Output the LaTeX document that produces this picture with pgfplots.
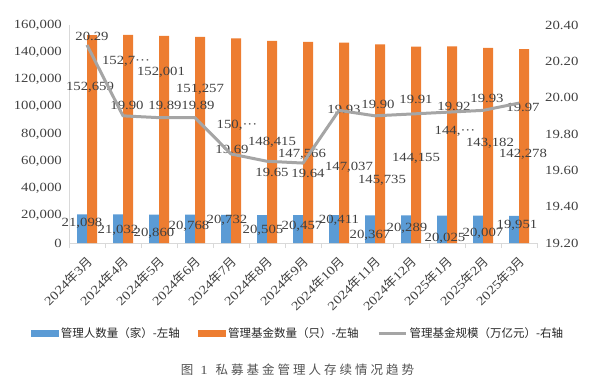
\documentclass[border=0pt]{standalone}
\usepackage{fontspec}
\setmainfont{Liberation Serif}[FakeStretch=1.18]
\newfontfamily\cjk{Noto Sans CJK SC}
\newfontfamily\cjkt{Noto Sans CJK SC}[LetterSpace=24]
\usepackage{pgfplots}
\pgfplotsset{compat=1.18}
\definecolor{cblue}{HTML}{5B9BD5}
\definecolor{corange}{HTML}{ED7D31}
\definecolor{cgray}{HTML}{A5A5A5}
\definecolor{ctext}{HTML}{404040}
\definecolor{caxis}{HTML}{D9D9D9}
\newcommand{\ym}[2]{#1{\cjk 年}#2{\cjk 月}}
\newcommand{\nf}{\fontsize{12.5}{14}\selectfont}
\pgfplotsset{lbl/.style={draw=none, mark=none, nodes near coords, point meta=explicit symbolic,
  every node near coord/.append style={anchor=center, font=\nf, text=ctext, inner sep=0pt}}}
\begin{document}
\begin{tikzpicture}
\useasboundingbox (0,0) rectangle (593pt,386pt);
\begin{axis}[
  at={(69pt,143pt)}, anchor=south west, scale only axis, width=468pt, height=218pt,
  xmin=-0.5, xmax=12.5, ymin=0, ymax=160000, clip=false,
  axis x line*=bottom, axis y line*=left,
  axis line style={caxis, line width=0.8pt, -},
  xtick={0,...,12},
  xticklabels={\ym{2024}{3},\ym{2024}{4},\ym{2024}{5},\ym{2024}{6},\ym{2024}{7},\ym{2024}{8},\ym{2024}{9},\ym{2024}{10},\ym{2024}{11},\ym{2024}{12},\ym{2025}{1},\ym{2025}{2},\ym{2025}{3}},
  minor xtick={-0.5,0.5,...,12.5},
  major tick length=0pt, minor tick length=5pt, tick align=outside,
  minor tick style={caxis, line width=0.8pt},
  ytick={0,20000,40000,60000,80000,100000,120000,140000,160000},
  scaled y ticks=false,
  /pgf/number format/fixed, /pgf/number format/precision=0,
  /pgf/number format/1000 sep={,},
  /pgf/number format/assume math mode=true,
  yticklabel style={inner sep=0pt, xshift=-7pt, font=\nf, text=ctext},
  xticklabel style={xshift=3pt, yshift=-16pt, rotate=45, anchor=east, inner sep=0pt, font=\nf, text=ctext},
]
\addplot[ybar, bar width=10pt, bar shift=-5pt, fill=cblue, draw=none] coordinates {
(0,21098) (1,21032) (2,20860) (3,20768) (4,20732) (5,20505) (6,20457) (7,20411) (8,20367) (9,20289) (10,20025) (11,20007) (12,19951)};
\addplot[ybar, bar width=10pt, bar shift=5pt, fill=corange, draw=none] coordinates {
(0,152659) (1,152750) (2,152001) (3,151257) (4,150230) (5,148415) (6,147566) (7,147037) (8,145735) (9,144155) (10,144300) (11,143182) (12,142278)};
% manager labels
\addplot[lbl] coordinates {
(-0.139,14679)[21,098] (0.861,9541)[21,032] (1.861,7339)[20,860] (2.833,12477)[20,768]
(3.889,16881)[20,732] (4.889,9541)[20,505] (5.972,12477)[20,457] (7.0,16881)[20,411]
(7.861,5872)[20,367] (8.889,11009)[20,289] (9.944,3670)[20,025] (11.0,7339)[20,007] (11.944,13211)[19,951]};
% fund labels
\addplot[lbl] coordinates {
(0.083,114495)[152,659] (1.083,133577)[152,7···] (2.056,125504)[152,001] (3.139,113027)[151,257]
(4.167,86605)[150,···] (5.139,74128)[148,415] (5.972,65321)[147,566] (7.278,55779)[147,037]
(8.194,46238)[145,735] (9.139,62385)[144,155] (10.222,82201)[144,···] (11.194,73394)[143,182] (12.111,65321)[142,278]};
% scale labels
\addplot[lbl] coordinates {
(0.139,151926)[20.29] (1.111,101284)[19.90] (2.167,101284)[19.89] (3.083,101284)[19.89]
(4.028,68990)[19.69] (5.139,52110)[19.65] (6.139,51376)[19.64] (7.139,98348)[19.93]
(8.083,102018)[19.90] (9.139,105687)[19.91] (10.194,100550)[19.92] (11.111,106421)[19.93] (12.111,99816)[19.97]};
\end{axis}
\begin{axis}[
  at={(69pt,143pt)}, anchor=south west, scale only axis, width=468pt, height=218pt,
  xmin=-0.5, xmax=12.5, ymin=19.2, ymax=20.4,
  axis x line=none, axis y line*=right,
  y axis line style={draw=none},
  major tick length=0pt,
  ytick={19.2,19.4,19.6,19.8,20.0,20.2,20.4},
  /pgf/number format/fixed, /pgf/number format/fixed zerofill, /pgf/number format/precision=2,
  /pgf/number format/assume math mode=true,
  yticklabel style={inner sep=0pt, xshift=8pt, anchor=west, font=\nf, text=ctext},
  legend columns=3,
  legend style={at={(0.490,-0.413)}, anchor=center, draw=none, fill=none,
    font=\cjk\fontsize{11.5}{13}\selectfont, text=black!85,
    /tikz/every even column/.append style={column sep=16pt},
    nodes={inner sep=2.5pt}},
]
\addlegendimage{legend image code/.code={\fill[cblue] (0pt,-3.2pt) rectangle (27pt,3.2pt);}}
\addlegendimage{legend image code/.code={\fill[corange] (0pt,-3.2pt) rectangle (27pt,3.2pt);}}
\addplot[cgray, line width=3pt, mark=none, line join=round,
  legend image code/.code={\draw[cgray, line width=3pt] (0pt,0pt) -- (27pt,0pt);}] coordinates {
(0,20.29) (1,19.90) (2,19.89) (3,19.89) (4,19.69) (5,19.65) (6,19.64) (7,19.93) (8,19.90) (9,19.91) (10,19.92) (11,19.93) (12,19.97)};
\legend{管理人数量（家）-左轴, 管理基金数量（只）-左轴, 管理基金规模（万亿元）-右轴}
\end{axis}
\node[font=\fontsize{12.5}{15}\selectfont, text=ctext!90] at (297.5pt,16pt) {{\cjkt 图}\hspace{7pt}1\hspace{8pt}{\cjkt 私募基金管理人存续情况趋势}};
\end{tikzpicture}
\end{document}
